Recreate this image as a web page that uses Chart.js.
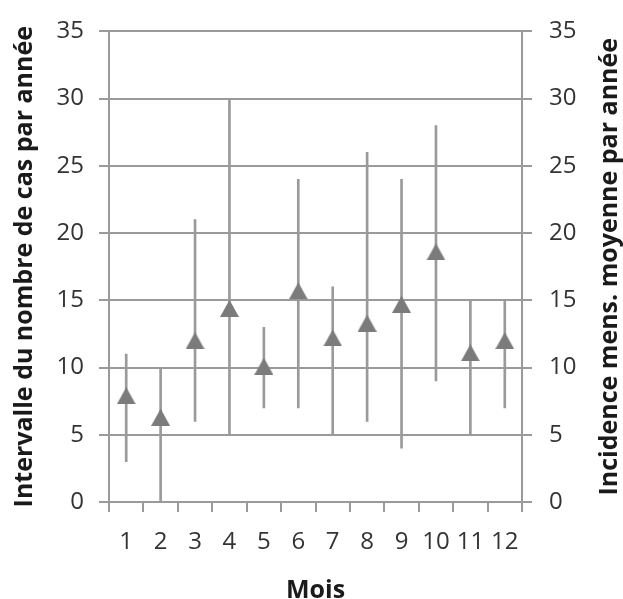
<!DOCTYPE html>
<html>
<head>
<meta charset="utf-8">
<script src="https://cdn.jsdelivr.net/npm/chart.js@4"></script>
<style>
  body { margin: 0; background: #fff; }
  #wrap { width: 623px; height: 599px; }
</style>
</head>
<body>
<div id="wrap"><canvas id="grafica" width="623" height="599"></canvas></div>
<script>
// donnees
const mois = ['1', '2', '3', '4', '5', '6', '7', '8', '9', '10', '11', '12']
const moyenne = [7.9, 6.3, 12.0, 14.4, 10.1, 15.7, 12.2, 13.3, 14.7, 18.6, 11.1, 12.0]
const minimum = [3, 0, 6, 5, 7, 7, 5, 6, 4, 9, 5, 7]
const maximum = [11, 10, 21, 30, 13, 24, 16, 26, 24, 28, 15, 15]
const yTicks = [0, 5, 10, 15, 20, 25, 30, 35]

const gris = '#9a9a9a'
const texte = '#333333'
const titre = '#1a1a1a'

// triangle centre sur la valeur (comme Excel)
const tri = document.createElement('canvas')
tri.width = 19
tri.height = 17
const tctx = tri.getContext('2d')
tctx.fillStyle = '#7b7b7b'
tctx.beginPath()
tctx.moveTo(9.5, 0)
tctx.lineTo(19, 17)
tctx.lineTo(0, 17)
tctx.closePath()
tctx.fill()

const intervalles = minimum.map((v, i) => [v, maximum[i]])

// titre de l'axe de droite, lu de bas en haut
const titreDroite = {
  id: 'titreDroite',
  afterDraw(chart) {
    const area = chart.chartArea
    const ctx = chart.ctx
    ctx.save()
    ctx.translate(610, (area.top + area.bottom) / 2)
    ctx.rotate(-Math.PI / 2)
    ctx.font = 'bold 25px "Open Sans"'
    ctx.fillStyle = titre
    ctx.textAlign = 'center'
    ctx.textBaseline = 'middle'
    ctx.fillText('Incidence mens. moyenne par année', 0, 0)
    ctx.restore()
  }
}

const graph = document.querySelector('#grafica')

const data = {
  labels: mois,
  datasets: [
    {
      type: 'line',
      label: 'Moyenne',
      data: moyenne,
      showLine: false,
      pointStyle: tri,
      pointRadius: 10,
      order: 0,
      yAxisID: 'y'
    },
    {
      type: 'bar',
      label: 'Intervalle',
      data: intervalles,
      backgroundColor: gris,
      borderWidth: 0,
      barThickness: 2,
      order: 1,
      yAxisID: 'y'
    }
  ]
}

const yScale = {
  min: 0,
  max: 35,
  afterBuildTicks: (s) => { s.ticks = yTicks.map(v => ({ value: v })) },
}

const config = {
  data: data,
  options: {
    responsive: false,
    animation: false,
    layout: { padding: { top: 29 } },
    plugins: { legend: { display: false }, tooltip: { enabled: false } },
    scales: {
      x: {
        offset: true,
        grid: { offset: true, drawOnChartArea: false, tickLength: 10, color: gris, lineWidth: 2 },
        border: { color: gris, width: 2 },
        ticks: { color: texte, font: { family: 'Open Sans', size: 24 }, padding: 16, maxRotation: 0, autoSkip: false },
        title: { display: true, text: 'Mois', color: titre, font: { family: 'Open Sans', size: 25, weight: 'bold', lineHeight: 1 }, padding: { top: 0, bottom: -4 } },
        afterFit: (s) => { s.height = 97 }
      },
      y: {
        ...yScale,
        position: 'left',
        grid: { color: gris, lineWidth: 2, tickLength: 10 },
        border: { color: gris, width: 2 },
        ticks: { color: texte, font: { family: 'Open Sans', size: 24 }, padding: 15 },
        title: { display: true, text: 'Intervalle du nombre de cas par année', color: titre, font: { family: 'Open Sans', size: 25, weight: 'bold', lineHeight: 1 }, padding: { top: 12, bottom: 0 } },
        afterFit: (s) => { s.width = 109 }
      },
      y2: {
        ...yScale,
        position: 'right',
        grid: { drawOnChartArea: false, color: gris, lineWidth: 2, tickLength: 10 },
        border: { color: gris, width: 2 },
        ticks: { color: texte, font: { family: 'Open Sans', size: 24 }, padding: 17 },
        afterFit: (s) => { s.width = 101 }
      }
    }
  },
  plugins: [titreDroite]
}

new Chart(graph, config)
</script>
</body>
</html>
